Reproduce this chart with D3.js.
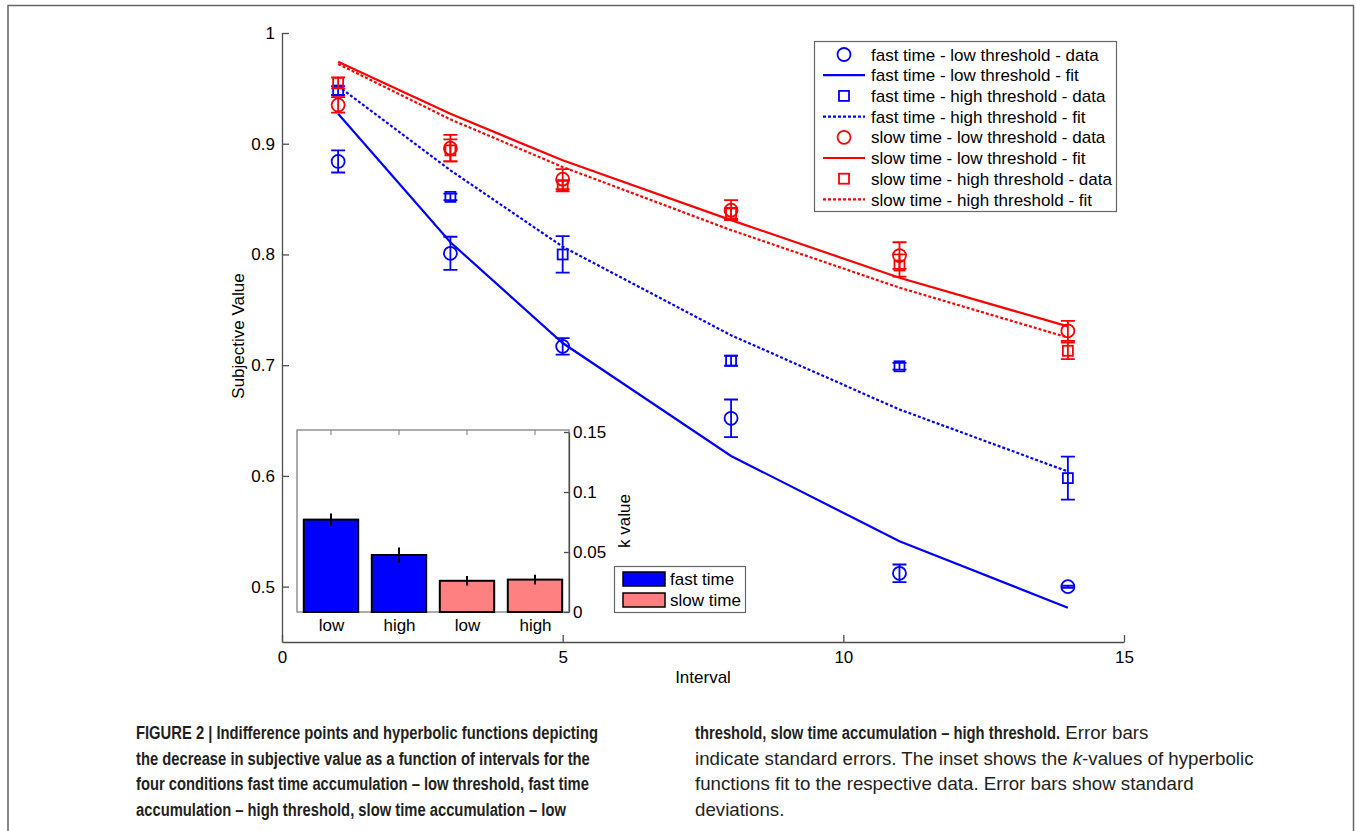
<!DOCTYPE html>
<html>
<head>
<meta charset="utf-8">
<script src="https://cdn.jsdelivr.net/npm/d3@7"></script>
<style>
  body { margin: 0; background: #fff; }
  text { font-family: "Liberation Sans", Arial, sans-serif; }
</style>
</head>
<body>
<div id="fig"></div>
<script>
// ---- data ----
var intervals = [1, 3, 5, 8, 11, 14];

var fastLowData  = [0.884, 0.801, 0.717, 0.652, 0.512, 0.500];
var fastLowErr   = [0.010, 0.015, 0.0075, 0.017, 0.008, 0.001];
var fastLowFit   = [0.927, 0.811, 0.720, 0.618, 0.541, 0.481];

var fastHighData = [0.948, 0.852, 0.800, 0.704, 0.699, 0.598];
var fastHighErr  = [0.004, 0.003, 0.0165, 0.0045, 0.003, 0.0195];
var fastHighFit  = [0.952, 0.876, 0.807, 0.727, 0.660, 0.604];

var slowLowData  = [0.935, 0.896, 0.868, 0.840, 0.799, 0.731];
var slowLowErr   = [0.007, 0.012, 0.009, 0.009, 0.012, 0.009];
var slowLowFit   = [0.974, 0.927, 0.885, 0.831, 0.779, 0.735];

var slowHighData = [0.955, 0.894, 0.862, 0.837, 0.790, 0.713];
var slowHighErr  = [0.005, 0.010, 0.005, 0.005, 0.010, 0.0075];
var slowHighFit  = [0.972, 0.922, 0.879, 0.822, 0.770, 0.725];

var xTicks = [0, 5, 10, 15];
var yTicks = [0.5, 0.6, 0.7, 0.8, 0.9, 1];

// inset: k values
var kLabels = ["low", "high", "low", "high"];
var kValues = [0.077, 0.0475, 0.026, 0.027];
var kErr    = [0.005, 0.0063, 0.004, 0.004];
var kGroup  = ["fast", "fast", "slow", "slow"];
var kTicks  = [0, 0.05, 0.1, 0.15];

var legendLabels = [
  "fast time - low threshold - data",
  "fast time - low threshold - fit",
  "fast time - high threshold - data",
  "fast time - high threshold - fit",
  "slow time - low threshold - data",
  "slow time - low threshold - fit",
  "slow time - high threshold - data",
  "slow time - high threshold - fit"
];

var BLUE = "#0000ff", RED = "#ff0000", PINK = "#ff8080", AX = "#4d4d4d";
var FS = 17;

var series = [
  {data: fastLowData,  err: fastLowErr,  fit: fastLowFit,  color: BLUE, marker: "circle", dash: null},
  {data: fastHighData, err: fastHighErr, fit: fastHighFit, color: BLUE, marker: "square", dash: "3,2"},
  {data: slowLowData,  err: slowLowErr,  fit: slowLowFit,  color: RED,  marker: "circle", dash: null},
  {data: slowHighData, err: slowHighErr, fit: slowHighFit, color: RED,  marker: "square", dash: "3,2"}
];

var svg = d3.select("#fig").append("svg")
    .attr("width", 1356)
    .attr("height", 831);

// outer frame of the figure panel
svg.append("path")
    .attr("d", "M8,835 L8,5.5 L1353.5,5.5 L1353.5,835")
    .attr("fill", "none")
    .attr("stroke", "#666")
    .attr("stroke-width", 1.5);

var x = d3.scaleLinear().domain([0, 15]).range([282, 1124]);
var y = d3.scaleLinear().domain([0.45, 1]).range([642, 33]);

function styleAxis(g) {
  g.selectAll("path, line").attr("stroke", AX).attr("stroke-width", 1.3);
  g.selectAll("text").attr("font-size", FS).attr("fill", "#000")
      .attr("font-family", "Liberation Sans, Arial, sans-serif");
}

// ---- main axes ----
var gx = svg.append("g")
    .attr("transform", "translate(0,642)")
    .call(d3.axisBottom(x).tickValues(xTicks).tickSizeInner(-7).tickSizeOuter(0).tickPadding(9));
var gy = svg.append("g")
    .attr("transform", "translate(282,0)")
    .call(d3.axisLeft(y).tickValues(yTicks).tickFormat(d3.format("")).tickSizeInner(-7).tickSizeOuter(0).tickPadding(7));
styleAxis(gx);
styleAxis(gy);

svg.append("text")
    .attr("x", 703).attr("y", 683)
    .attr("text-anchor", "middle")
    .attr("font-size", FS)
    .text("Interval");
svg.append("text")
    .attr("transform", "translate(244,336) rotate(-90)")
    .attr("text-anchor", "middle")
    .attr("font-size", FS)
    .text("Subjective Value");

// ---- fit lines ----
var line = d3.line()
    .x(function(d, i) { return x(intervals[i]); })
    .y(function(d) { return y(d); });

series.forEach(function(s) {
  svg.append("path")
      .datum(s.fit)
      .attr("d", line)
      .attr("fill", "none")
      .attr("stroke", s.color)
      .attr("stroke-width", 2.2)
      .attr("stroke-dasharray", s.dash);
});

// ---- data points with error bars ----
function drawMarker(g, type, color) {
  if (type === "circle") {
    g.append("circle").attr("r", 6.5)
        .attr("fill", "none").attr("stroke", color).attr("stroke-width", 1.8);
  } else {
    g.append("rect").attr("x", -5).attr("y", -5).attr("width", 10).attr("height", 10)
        .attr("fill", "none").attr("stroke", color).attr("stroke-width", 1.8);
  }
}

series.forEach(function(s) {
  var pts = svg.append("g").selectAll("g")
      .data(s.data)
      .enter().append("g");
  pts.append("path")
      .attr("d", function(d, i) {
        var cx = x(intervals[i]), y0 = y(d - s.err[i]), y1 = y(d + s.err[i]);
        return "M" + cx + "," + y0 + "V" + y1 +
               "M" + (cx - 7) + "," + y0 + "H" + (cx + 7) +
               "M" + (cx - 7) + "," + y1 + "H" + (cx + 7);
      })
      .attr("fill", "none")
      .attr("stroke", s.color)
      .attr("stroke-width", 1.8);
  pts.each(function(d, i) {
    var m = d3.select(this).append("g")
        .attr("transform", "translate(" + x(intervals[i]) + "," + y(d) + ")");
    drawMarker(m, s.marker, s.color);
  });
});

// ---- main legend ----
var leg = svg.append("g");
leg.append("rect")
    .attr("x", 814.5).attr("y", 41.5).attr("width", 302).attr("height", 170)
    .attr("fill", "#fff").attr("stroke", "#666").attr("stroke-width", 1.2);
var legRows = leg.selectAll("g.row")
    .data(legendLabels)
    .enter().append("g")
    .attr("class", "row")
    .attr("transform", function(d, i) { return "translate(0," + (54.5 + i * 20.7) + ")"; });
legRows.each(function(d, i) {
  var s = series[Math.floor(i / 2)], g = d3.select(this);
  if (i % 2 === 0) {
    var m = g.append("g").attr("transform", "translate(844,0)");
    drawMarker(m, s.marker, s.color);
  } else {
    g.append("line").attr("x1", 823).attr("x2", 865)
        .attr("stroke", s.color).attr("stroke-width", 2.2)
        .attr("stroke-dasharray", s.dash);
  }
});
legRows.append("text")
    .attr("x", 871).attr("dy", "0.36em")
    .attr("font-size", FS)
    .text(function(d) { return d; });

// ---- inset bar chart ----
var ix = d3.scaleLinear().domain([0.5, 4.5]).range([297, 569]);
var iy = d3.scaleLinear().domain([0, 0.15]).range([612, 432]);
var inset = svg.append("g");

inset.append("rect")
    .attr("x", 297).attr("y", 430).attr("width", 272).attr("height", 182)
    .attr("fill", "#fff").attr("stroke", "#777").attr("stroke-width", 1.2);

inset.selectAll("rect.bar")
    .data(kValues)
    .enter().append("rect")
    .attr("class", "bar")
    .attr("x", function(d, i) { return ix(i + 0.6); })
    .attr("width", ix(1.4) - ix(0.6))
    .attr("y", function(d) { return iy(d); })
    .attr("height", function(d) { return iy(0) - iy(d); })
    .attr("fill", function(d, i) { return kGroup[i] === "fast" ? BLUE : PINK; })
    .attr("stroke", "#000")
    .attr("stroke-width", 2);

inset.selectAll("line.err")
    .data(kValues)
    .enter().append("line")
    .attr("class", "err")
    .attr("x1", function(d, i) { return ix(i + 1); })
    .attr("x2", function(d, i) { return ix(i + 1); })
    .attr("y1", function(d, i) { return iy(d - kErr[i]); })
    .attr("y2", function(d, i) { return iy(d + kErr[i]); })
    .attr("stroke", "#000")
    .attr("stroke-width", 2);

// top ticks at bar positions
inset.selectAll("line.top")
    .data(kLabels)
    .enter().append("line")
    .attr("x1", function(d, i) { return ix(i + 1); })
    .attr("x2", function(d, i) { return ix(i + 1); })
    .attr("y1", 430).attr("y2", 435)
    .attr("stroke", "#777");

var ir = inset.append("g")
    .attr("transform", "translate(569,0)")
    .call(d3.axisRight(iy).tickValues(kTicks).tickFormat(d3.format("")).tickSizeInner(-5).tickSizeOuter(0).tickPadding(4));
var ib = inset.append("g")
    .attr("transform", "translate(0,612)")
    .call(d3.axisBottom(ix).tickValues([1, 2, 3, 4]).tickFormat(function(d) { return kLabels[d - 1]; })
          .tickSize(0).tickPadding(7));
styleAxis(ir);
styleAxis(ib);
ib.select("path").attr("stroke", "none");

inset.append("text")
    .attr("transform", "translate(630,521) rotate(-90)")
    .attr("text-anchor", "middle")
    .attr("font-size", FS)
    .text("k value");

// inset legend
var ileg = inset.append("g");
ileg.append("rect")
    .attr("x", 614.5).attr("y", 566.5).attr("width", 131).attr("height", 46)
    .attr("fill", "#fff").attr("stroke", "#666").attr("stroke-width", 1.2);
var ilegRows = ileg.selectAll("g")
    .data([{label: "fast time", color: BLUE}, {label: "slow time", color: PINK}])
    .enter().append("g")
    .attr("transform", function(d, i) { return "translate(0," + (579 + i * 21) + ")"; });
ilegRows.append("rect")
    .attr("x", 623).attr("y", -7).attr("width", 42).attr("height", 14)
    .attr("fill", function(d) { return d.color; })
    .attr("stroke", "#000").attr("stroke-width", 1.5);
ilegRows.append("text")
    .attr("x", 670).attr("dy", "0.36em")
    .attr("font-size", FS)
    .text(function(d) { return d.label; });

// ---- caption ----
// bold runs use a condensed face in the original; squeeze them horizontally
var CAP_FS = 18.7, BOLD_SQUEEZE = 0.79;
var leftLines = [
  [["FIGURE 2 | Indifference points and hyperbolic functions depicting", "bold"]],
  [["the decrease in subjective value as a function of intervals for the", "bold"]],
  [["four conditions fast time accumulation \u2013 low threshold, fast time", "bold"]],
  [["accumulation \u2013 high threshold, slow time accumulation \u2013 low", "bold"]]
];
var rightLines = [
  [["threshold, slow time accumulation \u2013 high threshold.", "bold"], ["\u00a0Error bars", "normal"]],
  [["indicate standard errors. The inset shows the ", "normal"], ["k", "italic"], ["-values of hyperbolic", "normal"]],
  [["functions fit to the respective data. Error bars show standard", "normal"]],
  [["deviations.", "normal"]]
];
var cap = svg.append("g");
function captionColumn(lines, x0) {
  lines.forEach(function(parts, i) {
    var cx = x0, yy = 739 + i * 25.7;
    parts.forEach(function(p) {
      var sx = p[1] === "bold" ? BOLD_SQUEEZE : 1;
      var t = cap.append("text")
          .attr("transform", "translate(" + cx + "," + yy + ") scale(" + sx + ",1)")
          .attr("font-size", CAP_FS)
          .attr("fill", "#231f20")
          .attr("font-weight", p[1] === "bold" ? "bold" : "normal")
          .attr("font-style", p[1] === "italic" ? "italic" : "normal")
          .style("white-space", "pre")
          .text(p[0]);
      cx += t.node().getComputedTextLength() * sx;
    });
  });
}
captionColumn(leftLines, 136);
captionColumn(rightLines, 695);
</script>
</body>
</html>
